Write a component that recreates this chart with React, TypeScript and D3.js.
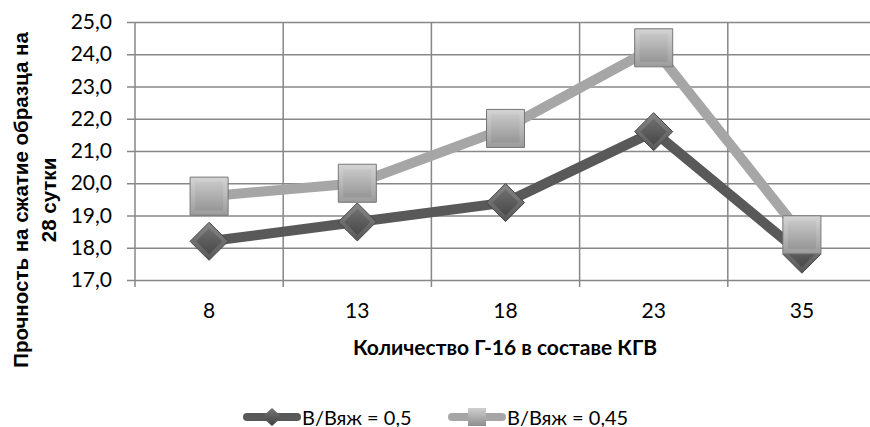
import * as d3 from "d3";
import React, { useRef, useEffect } from "react";

const categories = ["8", "13", "18", "23", "35"];
const series05 = [18.2, 18.8, 19.4, 21.6, 17.8];
const series045 = [19.6, 20.0, 21.7, 24.2, 18.4];
const seriesNames = ["В/Вяж = 0,5", "В/Вяж = 0,45"];
const yTicks = [17, 18, 19, 20, 21, 22, 23, 24, 25];

const FONT = "Lato, 'Open Sans', sans-serif";
const FONT_TITLE = "'Liberation Sans', Arial, sans-serif";

function App() {
  const ref = useRef<SVGSVGElement>(null);

  useEffect(() => {
    const svg = d3.select(ref.current);
    svg.selectAll("*").remove();
    draw(svg);
  }, []);

  const draw = (svg: any) => {
    const margin = { left: 135, top: 22 };
    const width = 741, // last band runs past the right edge
      height = 258;

    const defs = svg.append("defs");
    const mkGrad = (id: string, c1: string, c2: string) => {
      const g = defs.append("linearGradient").attr("id", id)
        .attr("x1", 0).attr("y1", 0).attr("x2", 0).attr("y2", 1);
      g.append("stop").attr("offset", "0%").attr("stop-color", c1);
      g.append("stop").attr("offset", "100%").attr("stop-color", c2);
    };
    mkGrad("gDark", "#777", "#404040");
    mkGrad("gLight", "#cfcfcf", "#8e8e8e");

    const g = svg.append("g")
      .attr("transform", "translate(" + margin.left + "," + margin.top + ")");

    const x = d3.scaleBand().domain(categories).range([0, width]);
    const y = d3.scaleLinear().domain([17, 25]).range([height, 0]);

    // horizontal grid + tick marks
    g.append("g")
      .call(d3.axisLeft(y).tickValues(yTicks).tickSize(-width).tickSizeOuter(0).tickPadding(23)
        .tickFormat((d: any) => d3.format(".1f")(d).replace(".", ",")))
      .call((a: any) => a.select(".domain").remove())
      .call((a: any) => a.selectAll(".tick line").attr("stroke", "#878787").attr("stroke-width", 1.5)
        .attr("x1", -8))
      .call((a: any) => a.selectAll(".tick text").attr("font-family", FONT).attr("font-size", 21)
        .attr("fill", "#000"));

    // vertical grid lines at band boundaries
    const bounds = categories.map((c) => x(c) as number);
    g.selectAll("vline").data(bounds).enter().append("line")
      .attr("x1", (d: number) => d).attr("x2", (d: number) => d)
      .attr("y1", 0).attr("y2", height + 7)
      .attr("stroke", "#878787").attr("stroke-width", 1.5);

    // x labels
    g.append("g")
      .attr("transform", "translate(0," + height + ")")
      .call(d3.axisBottom(x).tickSize(0).tickPadding(23))
      .call((a: any) => a.select(".domain").remove())
      .call((a: any) => a.selectAll(".tick text").attr("font-family", FONT).attr("font-size", 21)
        .attr("fill", "#000"));

    const cx = (i: number) => (x(categories[i]) as number) + x.bandwidth() / 2;
    const line = d3.line<number>().x((d, i) => cx(i)).y((d) => y(d));

    const drawSeries = (vals: number[], color: string, grad: string, shape: string) => {
      g.append("path").datum(vals).attr("d", line).attr("fill", "none")
        .attr("stroke", color).attr("stroke-width", 10).attr("stroke-linejoin", "round");
      const sym = shape === "diamond"
        ? "M0,-19L19,0L0,19L-19,0Z"
        : "M-19,-19L19,-19L19,19L-19,19Z";
      const inner = shape === "diamond"
        ? "M0,-19L19,0L0,19L-19,0Z M0,-13L13,0L0,13L-13,0Z"
        : "M-19,-19L19,-19L19,19L-19,19Z M-14,-14L14,-14L14,14L-14,14Z";
      const m = g.selectAll("m" + shape).data(vals).enter().append("g")
        .attr("transform", (d: number, i: number) => "translate(" + cx(i) + "," + y(d) + ")");
      m.append("path").attr("d", sym)
        .attr("fill", "url(#" + grad + ")")
        .attr("stroke", shape === "diamond" ? "#3a3a3a" : "#6e6e6e").attr("stroke-width", 1);
      // bevel rim
      m.append("path").attr("d", inner).attr("fill-rule", "evenodd")
        .attr("fill", "#fff").attr("opacity", 0.12);
    };
    drawSeries(series05, "#595959", "gDark", "diamond");
    drawSeries(series045, "#a6a6a6", "gLight", "square");

    // axis titles
    svg.append("text")
      .attr("x", 505).attr("y", 355)
      .attr("text-anchor", "middle").attr("font-family", FONT).attr("font-size", 21)
      .attr("font-weight", "bold").text("Количество Г-16 в составе КГВ");

    const yt = svg.append("text")
      .attr("transform", "translate(0,200) rotate(-90)")
      .attr("text-anchor", "middle").attr("font-family", FONT_TITLE).attr("font-size", 20.5)
      .attr("font-weight", "bold");
    yt.append("tspan").attr("x", 0).attr("y", 28).text("Прочность на сжатие образца на");
    yt.append("tspan").attr("x", 0).attr("y", 56).text("28 сутки");

    // legend
    const legend = [
      { name: seriesNames[0], color: "#595959", grad: "gDark", shape: "diamond", x0: 243 },
      { name: seriesNames[1], color: "#a6a6a6", grad: "gLight", shape: "square", x0: 448 },
    ];
    const lg = svg.append("g").attr("transform", "translate(0,417)");
    legend.forEach((l) => {
      lg.append("line").attr("x1", l.x0 + 4).attr("x2", l.x0 + 54).attr("y1", 0).attr("y2", 0)
        .attr("stroke", l.color).attr("stroke-width", 8).attr("stroke-linecap", "round");
      lg.append("path")
        .attr("transform", "translate(" + (l.x0 + 29) + ",0)")
        .attr("d", l.shape === "diamond" ? "M0,-9L10,0L0,9L-10,0Z" : "M-9,-9L9,-9L9,9L-9,9Z")
        .attr("fill", "url(#" + l.grad + ")");
      lg.append("text").attr("x", l.x0 + 59).attr("y", 7.5).attr("font-family", FONT)
        .attr("font-size", 20).text(l.name);
    });
  };

  return <svg ref={ref} width={870} height={427} style={{ display: "block", position: "absolute", left: 0, top: 0 }}></svg>;
}

export default App;
